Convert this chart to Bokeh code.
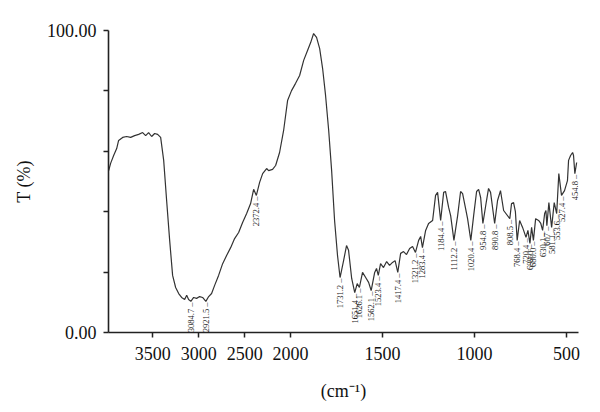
import numpy as np
from bokeh.plotting import figure
from bokeh.models import Range1d, FixedTicker, ColumnDataSource
from bokeh.embed import file_html
from bokeh.resources import INLINE
from bokeh.core.properties import value

# ---- data (wavenumber in cm^-1, transmittance in %) ----
wavenumber = [
    3978, 3957, 3924, 3891, 3870, 3826, 3783, 3739, 3696, 3652, 3609, 3576, 3544, 3511,
    3478, 3446, 3413, 3380, 3348, 3315, 3283, 3250, 3217, 3185, 3152, 3130, 3109, 3084.7,
    3054, 3022, 2989, 2957, 2921.5, 2891, 2859, 2826, 2783, 2739, 2696, 2652, 2609, 2565,
    2522, 2478, 2435, 2402, 2372.4, 2337, 2304, 2261, 2239, 2196, 2163, 2120, 2076, 2033,
    1995, 1973, 1951, 1929, 1908, 1891, 1875, 1859, 1842, 1826, 1810, 1793, 1777, 1761,
    1745, 1731.2, 1712, 1696, 1685, 1668, 1651.4, 1638, 1626.1, 1609, 1592, 1576, 1562.1,
    1543, 1533, 1523.4, 1511, 1495, 1478, 1462, 1446, 1432, 1417.4, 1402, 1386, 1370, 1353,
    1337, 1321.2, 1304, 1293, 1283.4, 1266, 1250, 1228, 1212, 1201, 1184.4, 1168, 1158,
    1141, 1130, 1112.2, 1092, 1076, 1065, 1049, 1038, 1020.4, 1005, 989, 978, 967, 954.8,
    935, 924, 913, 890.8, 875, 859, 842, 808.5, 799, 788, 778, 768.4, 755, 739, 720.4, 710,
    699.0, 690, 680.0, 668, 652, 640, 630.1, 619, 612, 607, 596, 581.1, 567, 553.6, 542,
    527.4, 511, 495, 489, 478, 467, 462, 454.8, 445,
]
transmittance = [
    53.6, 56.0, 58.6, 60.9, 63.6, 64.6, 64.9, 64.6, 65.2, 65.6, 66.2, 65.2, 66.2, 64.9,
    65.9, 65.6, 64.6, 57.0, 43.7, 30.5, 18.9, 14.9, 12.9, 11.6, 10.9, 12.3, 10.9, 10.3,
    11.6, 11.3, 11.9, 11.6, 10.3, 11.9, 12.9, 15.6, 18.9, 22.8, 25.5, 28.1, 31.1, 33.1,
    36.4, 39.4, 42.7, 47.4, 45.4, 49.7, 52.6, 54.3, 53.6, 54.0, 55.3, 59.6, 66.9, 76.8,
    80.1, 82.5, 85.1, 90.1, 93.4, 96.0, 99.0, 97.7, 94.0, 87.4, 78.5, 66.9, 53.6, 37.1,
    25.5, 18.2, 23.8, 28.8, 27.2, 17.9, 13.2, 16.2, 14.9, 19.9, 18.2, 16.6, 13.9,
    19.9, 21.2, 18.9, 22.8, 21.5, 23.5, 22.2, 23.2, 23.8, 19.9, 26.2, 26.8, 25.8, 27.8,
    28.5, 26.5, 30.5, 31.8, 28.1, 33.8, 36.1, 37.1, 45.4, 46.4, 37.1, 46.4, 46.7,
    41.4, 38.7, 30.5, 38.7, 46.7, 46.0, 41.1, 37.7, 30.5, 38.7, 46.7, 47.4, 44.7, 36.1,
    43.7, 47.7, 46.4, 36.1, 43.7, 47.0, 40.4, 37.7, 42.7, 43.0, 40.0, 30.5, 37.1, 34.8, 31.5, 33.8,
    29.5, 34.8, 30.5, 37.7, 37.1, 36.1, 33.8, 39.4, 40.4, 35.4, 43.0, 34.8, 43.0, 39.4, 52.6,
    45.4, 47.0, 50.3, 57.0, 58.6, 59.6, 58.6, 52.6, 56.3,
]
peak_labels = [
    "3084.7", "2921.5", "2372.4", "1731.2", "1651.4", "1626.1", "1562.1", "1523.4",
    "1417.4", "1321.2", "1283.4", "1184.4", "1112.2", "1020.4", "954.8", "890.8",
    "808.5", "768.4", "720.4", "699.0", "680.0", "630.1", "607", "581.1", "553.6",
    "527.4", "454.8",
]
x_ticks = [3500, 3000, 2500, 2000, 1500, 1000, 500]
y_ticks = [0, 20, 40, 60, 80, 100]
x_limits = [3980, 435]
y_limits = [0, 100]
x_title = "(cm\u207b\u00b9)"
y_title = "T (%)"

SERIF = "Liberation Serif"


def to_axis(w):
    """Spectrometer-style axis: region above 2000 cm^-1 compressed by 2."""
    w = np.asarray(w, dtype=float)
    return np.where(w > 2000, 2000 + (w - 2000) / 2.0, w)


xs = to_axis(wavenumber)
order = np.argsort(wavenumber)
wn_sorted = np.asarray(wavenumber, float)[order]
t_sorted = np.asarray(transmittance, float)[order]
peak_wn = np.array([float(s) for s in peak_labels])
peak_t = np.interp(peak_wn, wn_sorted, t_sorted)

p = figure(
    width=600, height=412,
    output_backend="svg", toolbar_location=None,
    x_range=Range1d(*to_axis(x_limits)), y_range=Range1d(*y_limits),
    min_border_left=108, min_border_right=22, min_border_top=30, min_border_bottom=80,
)
p.outline_line_color = None
p.grid.visible = False
p.background_fill_color = "white"
p.border_fill_color = "white"

p.line(xs, transmittance, line_color="#333333", line_width=1.2)

src = ColumnDataSource(dict(
    x=to_axis(peak_wn), y=peak_t,
    text=[s + " \u2013" for s in peak_labels],
))
p.text(x="x", y="y", text="text", source=src, angle=np.pi / 2,
       text_align="right", text_baseline="middle", y_offset=1,
       text_font=value(SERIF), text_font_size="8.5px", text_color="#222222")

# axes
xa = p.xaxis[0]
xa.ticker = FixedTicker(ticks=list(to_axis(x_ticks)))
xa.major_label_overrides = {float(u): str(t) for u, t in zip(to_axis(x_ticks), x_ticks)}
ya = p.yaxis[0]
ya.ticker = FixedTicker(ticks=y_ticks)
ya.major_label_overrides = {t: (f"{t:.2f}" if t in (y_limits[0], y_limits[1]) else "") for t in y_ticks}
for ax in (xa, ya):
    ax.axis_line_width = 1.6
    ax.axis_line_color = "#222222"
    ax.major_tick_line_width = 1.5
    ax.major_tick_line_color = "#222222"
    ax.major_tick_in = 0
    ax.major_tick_out = 5
    ax.minor_tick_line_color = None
    ax.major_label_text_font = SERIF
    ax.major_label_text_font_size = "18px"
    ax.major_label_text_color = "#111111"
    ax.axis_label_text_font = SERIF
    ax.axis_label_text_font_size = "18px"
    ax.axis_label_text_font_style = "normal"
    ax.axis_label_text_color = "#111111"
xa.major_label_standoff = 9
ya.major_label_standoff = 7
xa.axis_label = x_title
ya.axis_label = y_title
xa.axis_label_standoff = 18
ya.axis_label_standoff = 10

open("out.html", "w").write(file_html(p, INLINE))
